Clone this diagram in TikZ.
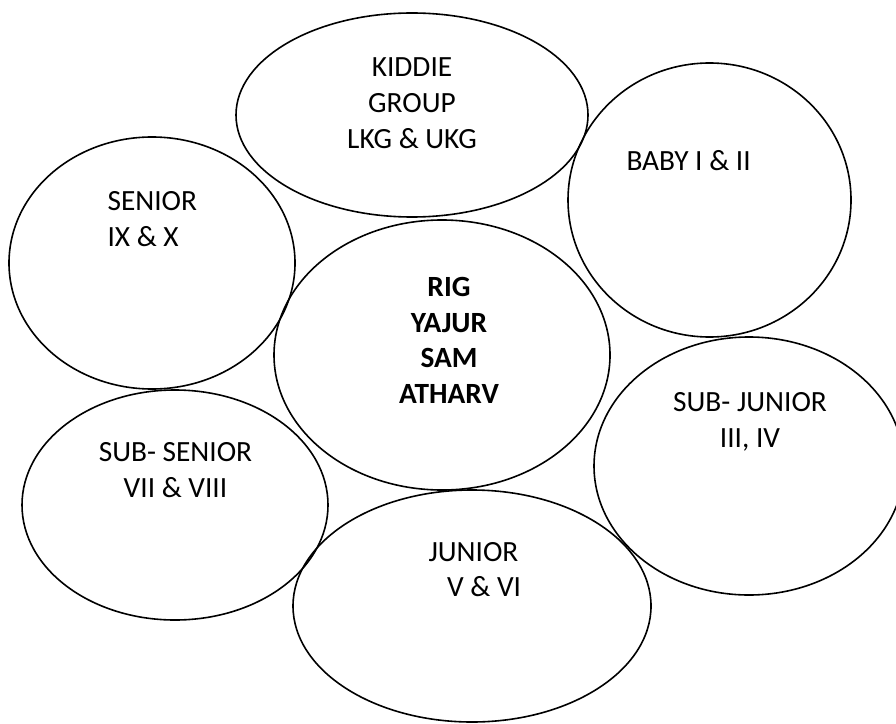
\documentclass[tikz,border=0pt]{standalone}
\usepackage{fontspec}
\setmainfont{Carlito}
\usetikzlibrary{shapes.geometric}

\begin{document}
\begin{tikzpicture}[x=0.375pt,y=-0.375pt,
  grp/.style 2 args={ellipse,draw,line width=0.6pt,inner sep=0pt,
    minimum width=#1*0.375pt,minimum height=#2*0.375pt},
  lbl/.style={font=\fontsize{11}{13.4}\selectfont,inner sep=0pt}]
\useasboundingbox (0,0) rectangle (896,723);
\node[grp={352}{204}] (kiddie) at (412,115) {};
\node[grp={283}{274}] (baby) at (709.5,200) {};
\node[grp={286}{252}] (senior) at (152,263) {};
\node[grp={336}{270}] (vedas) at (442,355) {};
\node[grp={310}{258}] (subjunior) at (749,466) {};
\node[grp={306}{230}] (subsenior) at (175,505) {};
\node[grp={358}{232}] (junior) at (472,606) {};

\node[lbl,align=center] (kiddietxt) at (412,103) {KIDDIE\\GROUP\\LKG \& UKG};
\node[lbl,anchor=base west] (babytxt) at (626,171) {BABY I \& II};
\node[lbl,align=left,anchor=west] (seniortxt) at (107,219) {SENIOR\\IX \& X};
\node[lbl,align=center,font=\fontsize{11}{13.4}\selectfont\bfseries] (vedastxt) at (449,340.5) {RIG\\YAJUR\\SAM\\ATHARV};
\node[lbl,align=center] (subjuniortxt) at (750,422) {SUB- JUNIOR\\III, IV};
\node[lbl,align=center] (subseniortxt) at (175.5,470) {SUB- SENIOR\\VII \& VIII};
\node[lbl,align=left,anchor=west] (juniortxt) at (428,569.5) {JUNIOR\\\hspace*{7pt}V \& VI};
\end{tikzpicture}
\end{document}
